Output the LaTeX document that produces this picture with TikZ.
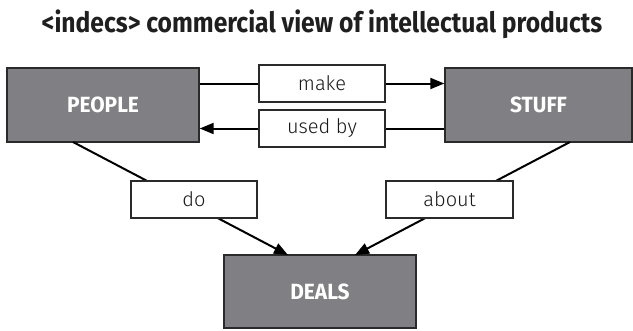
\documentclass[tikz,border=0pt]{standalone}
\usepackage{fontspec}
\setmainfont{Fira Sans}
\newfontfamily\titlefont[FakeStretch=0.88]{Fira Sans}
\newfontfamily\boxfont[FakeStretch=0.95]{Fira Sans}
\newfontfamily\labelfont{Fira Sans Light}
\usetikzlibrary{arrows.meta}
\definecolor{boxgray}{HTML}{808084}
\definecolor{edge}{HTML}{2A2A2A}
\tikzset{
  bigbox/.style={draw=edge, line width=1.4pt, fill=boxgray, text=white,
    font=\boxfont\fontsize{22}{24}\selectfont\bfseries, inner sep=0pt},
  labbox/.style={draw=edge, line width=1.2pt, fill=white, text=black!90,
    font=\labelfont\fontsize{20}{22}\selectfont, inner sep=0pt},
  conn/.style={draw=black, line width=2pt},
  tip/.style={-{Triangle[length=14pt,width=11pt]}}
}
\begin{document}
\begin{tikzpicture}[x=1pt,y=-1pt]
\useasboundingbox (0,0) rectangle (633,330);
\node[font=\titlefont\fontsize{28}{30}\selectfont\bfseries, text=black!88] (title) at (322,24) {<indecs> commercial view of intellectual products};
\node[bigbox, minimum width=192pt, minimum height=74pt] (people) at (103,105) {PEOPLE};
\node[bigbox, minimum width=187pt, minimum height=74pt] (stuff) at (538.5,105) {STUFF};
\node[bigbox, minimum width=192pt, minimum height=73pt] (deals) at (320,291.5) {DEALS};
% diagonal connectors (drawn before label boxes)
\coordinate (pd1) at (73,142);
\coordinate (pd2) at (288,255);
\coordinate (sd1) at (570,142);
\coordinate (sd2) at (355,255);
\draw[conn, tip] (pd1) -- (pd2);
\draw[conn, tip] (sd1) -- (sd2);
\node[labbox, minimum width=126pt, minimum height=37pt] (make) at (322,83.5) {make};
\node[labbox, minimum width=126pt, minimum height=37pt] (usedby) at (322,128.5) {used by};
\node[labbox, minimum width=126pt, minimum height=37pt] (do) at (194,199.5) {do};
\node[labbox, minimum width=127pt, minimum height=37pt] (about) at (449.5,199.5) {about};
\draw[conn] (people.east |- make.west) -- (make.west);
\draw[conn, tip] (make.east) -- (stuff.west |- make.east);
\draw[conn] (stuff.west |- usedby.east) -- (usedby.east);
\draw[conn, tip] (usedby.west) -- (people.east |- usedby.west);
\end{tikzpicture}
\end{document}
